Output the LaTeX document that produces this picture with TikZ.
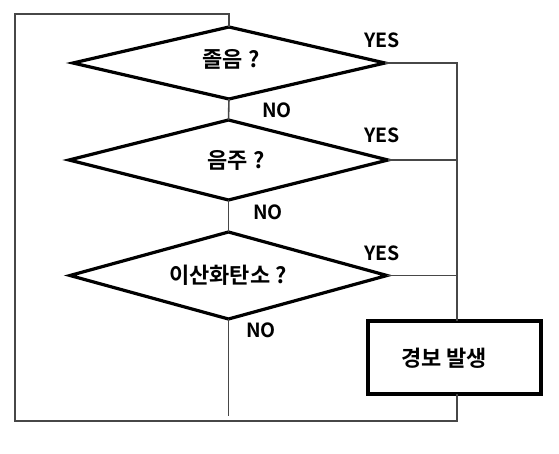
\documentclass[tikz,border=0pt]{standalone}
\usepackage{fontspec}
\newfontfamily\kr{Noto Sans CJK KR Bold}
\usetikzlibrary{shapes.geometric}
\tikzset{
  decision/.style={diamond, draw=black, line width=3.2pt, inner sep=0pt, outer sep=0pt},
  alarmbox/.style={rectangle, draw=black, line width=3.2pt, inner sep=0pt, outer sep=0pt},
  conn/.style={draw=black!72, line width=1.6pt},
  lbl/.style={inner sep=0pt, font=\kr\fontsize{19.5}{23}\selectfont},
  txt/.style={inner sep=0pt, font=\kr\fontsize{22}{26}\selectfont}
}
\begin{document}
\begin{tikzpicture}[x=1pt,y=-1pt]
\useasboundingbox (0,0) rectangle (559,454);
\node[decision, minimum width=312pt, minimum height=72pt] (d1) at (229,63) {};
\node[decision, minimum width=319pt, minimum height=80pt] (d2) at (228.5,160) {};
\node[decision, minimum width=317pt, minimum height=87pt] (d3) at (228.5,275.5) {};
\node[alarmbox, minimum width=173pt, minimum height=73pt] (box) at (454.5,357.5) {};
\node[txt] (t1) at (231,59) {졸음 ?};
\node[txt] (t2) at (236,160) {음주 ?};
\node[txt] (t3) at (228,275) {이산화탄소 ?};
\node[txt] (t4) at (444,358) {경보 발생};
\node[lbl] (y1) at (382,40) {YES};
\node[lbl] (y2) at (382,135) {YES};
\node[lbl] (y3) at (382,253) {YES};
\node[lbl] (n1) at (277,110) {NO};
\node[lbl] (n2) at (268,212) {NO};
\node[lbl] (n3) at (261,330) {NO};
\coordinate (r1) at (457,63);
\coordinate (r2) at (457,160);
\coordinate (r3) at (457,275.5);
\coordinate (cend) at (228.5,416);
\coordinate (bl) at (15,421);
\coordinate (br) at (457,421);
\coordinate (tl) at (15,14);
\coordinate (tc) at (229,14);
\path[conn] (d1.east) -- (r1) -- (box.north -| r1);
\path[conn] (d2.east) -- (r2);
\path[conn] (d3.east) -- (r3);
\path[conn] (d1.south) -- (d2.north);
\path[conn] (d2.south) -- (d3.north);
\path[conn] (d3.south) -- (cend);
\path[conn] (box.south -| br) -- (br) -- (bl) -- (tl) -- (tc) -- (d1.north);
\end{tikzpicture}
\end{document}
